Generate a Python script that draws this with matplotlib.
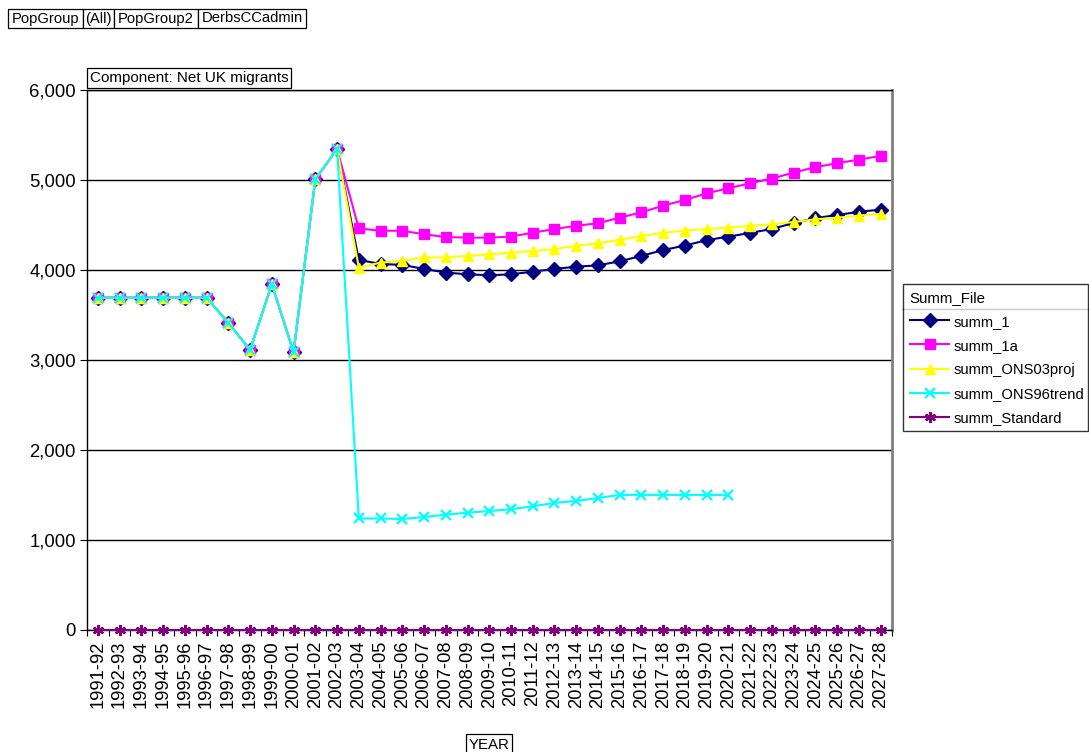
import matplotlib
matplotlib.use("Agg")
import matplotlib.pyplot as plt
import numpy as np
from matplotlib.lines import Line2D
from matplotlib.patches import Rectangle
from matplotlib.ticker import FuncFormatter, FixedLocator

plt.rcParams['font.family'] = ['Liberation Sans', 'DejaVu Sans']

years = ["1991-92", "1992-93", "1993-94", "1994-95", "1995-96", "1996-97", "1997-98",
         "1998-99", "1999-00", "2000-01", "2001-02", "2002-03", "2003-04", "2004-05",
         "2005-06", "2006-07", "2007-08", "2008-09", "2009-10", "2010-11", "2011-12",
         "2012-13", "2013-14", "2014-15", "2015-16", "2016-17", "2017-18", "2018-19",
         "2019-20", "2020-21", "2021-22", "2022-23", "2023-24", "2024-25", "2025-26",
         "2026-27", "2027-28"]

history = [3690, 3690, 3690, 3690, 3690, 3690, 3410, 3110, 3840, 3085, 5005, 5345]

summ_1 = history + [4110, 4065, 4055, 4010, 3970, 3950, 3940, 3950, 3980, 4010, 4035, 4050,
                    4095, 4155, 4220, 4270, 4330, 4370, 4410, 4455, 4520, 4575, 4610, 4645, 4670]
summ_1a = history + [4460, 4435, 4435, 4395, 4365, 4358, 4358, 4370, 4413, 4454, 4490, 4518,
                     4580, 4640, 4714, 4777, 4851, 4907, 4963, 5015, 5082, 5142, 5186, 5226, 5267]
summ_ONS03proj = history + [4025, 4080, 4098, 4139, 4139, 4154, 4173, 4191, 4209, 4232, 4268, 4295,
                            4335, 4376, 4413, 4436, 4454, 4469, 4488, 4506, 4532, 4562, 4580, 4603, 4621]
summ_ONS96trend = history + [1235, 1235, 1228, 1251, 1277, 1299, 1318, 1338, 1370, 1408, 1430, 1462,
                             1497, 1497, 1497, 1497, 1497, 1497] + [np.nan] * 7
summ_Standard = [0] * 37

series_names = ["summ_1", "summ_1a", "summ_ONS03proj", "summ_ONS96trend", "summ_Standard"]
series_vals = [summ_1, summ_1a, summ_ONS03proj, summ_ONS96trend, summ_Standard]
colors = ["#000080", "#FF00FF", "#FFFF00", "#00FFFF", "#800080"]
markers = ["D", "s", "^", "x", (6, 2, 0)]
msizes = [7.0, 7.2, 7.8, 7.0, 8.0]

W, H = 1089, 752
fig = plt.figure(figsize=(W / 100, H / 100), dpi=100)
ax = fig.add_axes([87 / W, 1 - 629.5 / H, (891.5 - 87) / W, (629.5 - 90) / H])

x = np.arange(len(years))
handles = []
for name, vals, c, m, ms in zip(series_names, series_vals, colors, markers, msizes):
    mew = 1.6 if m in ("x",) or isinstance(m, tuple) else 1.0
    h, = ax.plot(x, vals, color=c, lw=1.5, marker=m, markersize=ms,
                 markerfacecolor=c, markeredgecolor=c, markeredgewidth=mew,
                 label=name, zorder=3, clip_on=False)
    handles.append(h)

ax.set_xlim(-0.5, len(years) - 0.5)
ax.set_ylim(0, 6000)
ax.set_yticks(np.arange(0, 6001, 1000))
ax.yaxis.set_major_formatter(FuncFormatter(lambda v, p: f"{int(v):,}"))
ax.grid(axis='y', color='black', lw=1.0, zorder=1)
ax.set_axisbelow(True)

ax.set_xticks(x)
ax.set_xticklabels(years, rotation=90, fontsize=13.2)
ax.tick_params(axis='x', which='major', length=0, pad=8)
ax.xaxis.set_minor_locator(FixedLocator(np.arange(-0.5, len(years), 1)))
ax.tick_params(axis='x', which='minor', length=4, width=0.8, direction='out')
ax.tick_params(axis='y', labelsize=13.3, length=5, width=0.8, direction='out', pad=3)

for s in ['left', 'bottom', 'top']:
    ax.spines[s].set_color('black')
    ax.spines[s].set_linewidth(1.0)
ax.spines['right'].set_color('#808080')
ax.spines['right'].set_linewidth(2.0)

# Legend
leg = fig.legend(handles=handles, loc='upper left',
                 bbox_to_anchor=(903 / W, 1 - 284 / H, (1088 - 903) / W, 0.0),
                 mode='expand', borderaxespad=0, title='Summ_File', title_fontsize=10.8,
                 fontsize=10.6, frameon=True, fancybox=False, edgecolor='black',
                 handlelength=2.7, handletextpad=0.3, labelspacing=0.68, borderpad=0.45)
leg._legend_box.align = "left"
leg.get_frame().set_linewidth(1.0)
fig.add_artist(Line2D([903 / W, 1088 / W], [1 - 309 / H] * 2, color='black', lw=1.0,
                      transform=fig.transFigure))

# Header boxes
def box(x0, x1, y0, y1, text, fs=10.6):
    fig.add_artist(Rectangle((x0 / W, 1 - y1 / H), (x1 - x0) / W, (y1 - y0) / H,
                             transform=fig.transFigure, fc='white', ec='black', lw=0.9))
    fig.text((x0 + x1) / 2 / W, 1 - (y0 + y1) / 2 / H, text, ha='center', va='center',
             fontsize=fs)

box(8, 83, 9, 28, "PopGroup")
box(83, 114, 9, 28, "(All)")
box(114, 198, 9, 28, "PopGroup2")
box(198, 306, 9, 28, "DerbsCCadmin")
box(87, 291, 68, 88, "Component: Net UK migrants", fs=11.0)
box(466, 512, 734, 756, "YEAR", fs=10.8)

fig.savefig("out.png", dpi=100, facecolor='white')
